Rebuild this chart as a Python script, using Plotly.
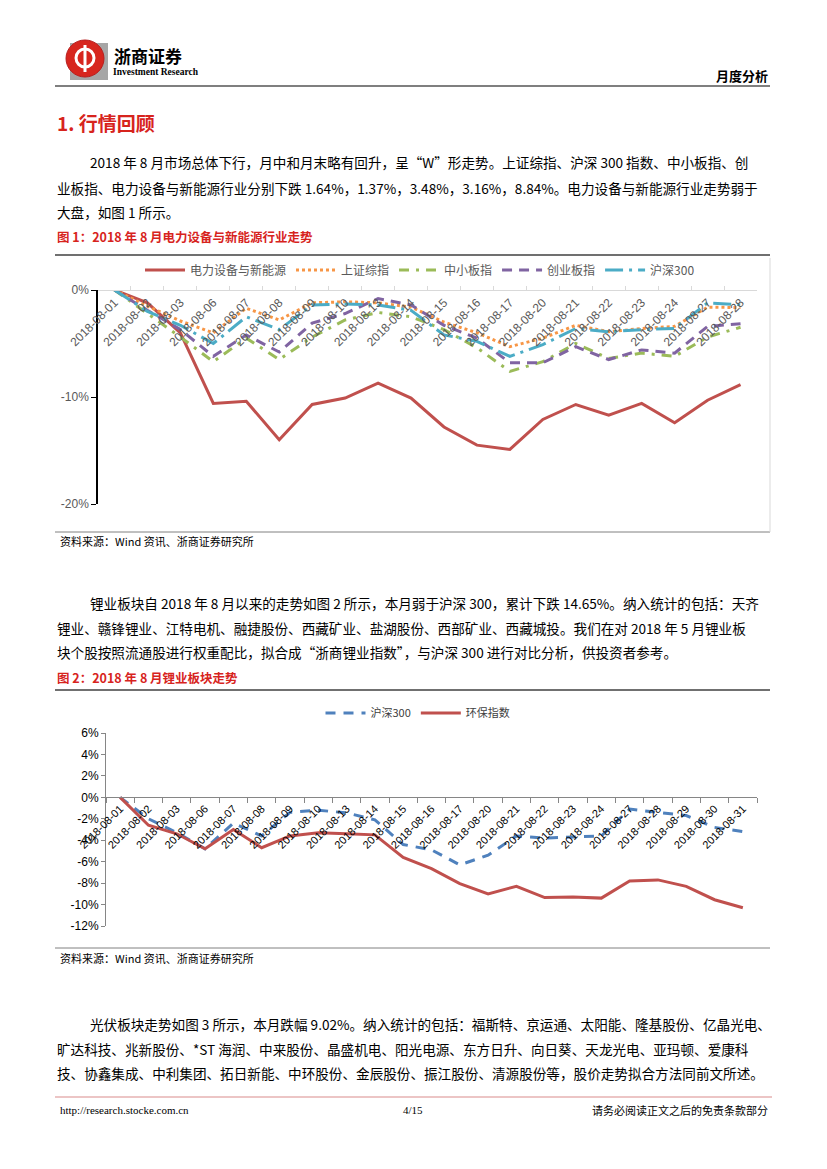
import plotly.graph_objects as go

W, H = 827, 1169
OFF = 8  # page body margin in the browser
def X(px): return (px - OFF) / W
def Y(py): return 1 - (py - OFF) / H

# ---------------- data ----------------
dates1 = ["2018-08-01", "2018-08-02", "2018-08-03", "2018-08-06", "2018-08-07", "2018-08-08",
          "2018-08-09", "2018-08-10", "2018-08-13", "2018-08-14", "2018-08-15", "2018-08-16",
          "2018-08-17", "2018-08-20", "2018-08-21", "2018-08-22", "2018-08-23", "2018-08-24",
          "2018-08-27", "2018-08-28"]
power_newenergy = [0, -1.2, -4.0, -10.6, -10.4, -14.0, -10.7, -10.1, -8.7, -10.1, -12.8, -14.5,
                   -14.9, -12.1, -10.7, -11.7, -10.6, -12.4, -10.3, -8.84]
sh_composite = [0, -1.5, -2.9, -4.0, -1.7, -2.8, -1.2, -1.1, -1.2, -1.6, -3.0, -4.0,
                -5.3, -4.5, -3.3, -3.9, -3.6, -3.4, -1.6, -1.64]
sme_index = [0, -2.2, -4.4, -6.7, -4.5, -6.5, -4.4, -2.8, -2.1, -2.5, -3.7, -5.4,
             -7.6, -6.7, -5.0, -6.4, -5.9, -6.2, -4.4, -3.48]
chinext_index = [0, -1.9, -3.7, -6.2, -4.2, -5.8, -3.1, -2.2, -0.8, -1.4, -3.3, -4.5,
                 -6.8, -6.8, -5.3, -6.5, -5.6, -5.9, -3.4, -3.16]
hs300_fig1 = [0, -2.0, -3.3, -5.0, -2.5, -3.7, -1.4, -1.3, -1.4, -1.9, -4.2, -4.8,
              -6.2, -5.1, -3.6, -3.9, -3.7, -3.6, -1.2, -1.37]

dates2 = dates1 + ["2018-08-29", "2018-08-30", "2018-08-31"]
hs300_fig2 = [0, -2.0, -3.3, -4.8, -2.4, -3.6, -1.4, -1.2, -1.45, -2.1, -4.4, -4.9,
              -6.3, -5.4, -3.6, -3.8, -3.7, -3.6, -1.1, -1.4, -1.7, -2.8, -3.2]
lithium_index = [0, -2.6, -3.4, -4.8, -3.0, -4.7, -3.6, -3.3, -3.4, -3.5, -5.6, -6.65,
                 -8.05, -9.0, -8.3, -9.35, -9.3, -9.4, -7.8, -7.7, -8.3, -9.55, -10.3]

y1_tickvals = [0, -10, -20]
y1_ticktext = ["0%", "-10%", "-20%"]
y2_tickvals = [6, 4, 2, 0, -2, -4, -6, -8, -10, -12]
y2_ticktext = ["6%", "4%", "2%", "0%", "-2%", "-4%", "-6%", "-8%", "-10%", "-12%"]

# ---------------- figure ----------------
RED = "#C0504D"
TITLE_RED = "#D7241D"
CJK = "Noto Sans CJK SC"
fig = go.Figure()

fig1_series = [
    ("电力设备与新能源", power_newenergy, RED, "solid"),
    ("上证综指", sh_composite, "#F79646", "dot"),
    ("中小板指", sme_index, "#9BBB59", "10px,7px,3px,7px"),
    ("创业板指", chinext_index, "#8064A2", "10px,7px"),
    ("沪深300", hs300_fig1, "#4BACC6", "18px,6px,3px,6px"),
]
for name, vals, col, dash in fig1_series:
    fig.add_trace(go.Scatter(x=dates1, y=vals, name=name, mode="lines",
                             line=dict(color=col, width=3, dash=dash),
                             xaxis="x", yaxis="y", legend="legend", cliponaxis=False))

fig.add_trace(go.Scatter(x=dates2, y=hs300_fig2, name="沪深300", mode="lines",
                         line=dict(color="#4F81BD", width=3, dash="10px,8px"),
                         xaxis="x2", yaxis="y2", legend="legend2", cliponaxis=False))
fig.add_trace(go.Scatter(x=dates2, y=lithium_index, name="环保指数", mode="lines",
                         line=dict(color=RED, width=3),
                         xaxis="x2", yaxis="y2", legend="legend2", cliponaxis=False))

narrow = "Liberation Sans Narrow, Arial Narrow, Liberation Sans"
layout = dict(
    template="none",
    width=W, height=H, margin=dict(l=0, r=0, t=0, b=0, pad=0, autoexpand=False),
    paper_bgcolor="white", plot_bgcolor="rgba(0,0,0,0)",
    xaxis=dict(domain=[X(98), X(757)], type="category", range=[-0.5, 19.5], automargin=False,
               anchor="free", position=Y(290), showline=True, linecolor="#D9D9D9", linewidth=1,
               ticks="inside", ticklen=4, tickcolor="#D9D9D9", tickson="boundaries",
               tickangle=-45, tickfont=dict(family=narrow, size=12, color="#595959"),
               showgrid=False, zeroline=False, fixedrange=True),
    yaxis=dict(domain=[Y(504), Y(290)], range=[-20, 0], tickvals=y1_tickvals, ticktext=y1_ticktext,
               automargin=False,
               showline=True, linecolor="#000000", linewidth=1.5, ticks="outside", ticklen=5,
               tickcolor="#000000", tickfont=dict(family=narrow, size=12, color="#595959"),
               showgrid=False, zeroline=False, anchor="x"),
    xaxis2=dict(domain=[X(106), X(757)], type="category", range=[-0.5, 22.5], automargin=False,
                anchor="free", position=Y(797), showline=True, linecolor="#868686", linewidth=1,
                ticks="outside", ticklen=5, tickcolor="#868686", tickson="boundaries",
                tickangle=-45, tickfont=dict(family="Liberation Sans, Arial", size=11, color="#000000"),
                showgrid=False, zeroline=False),
    yaxis2=dict(domain=[Y(926), Y(733)], range=[-12, 6], tickvals=y2_tickvals, ticktext=y2_ticktext,
                automargin=False,
                showline=True, linecolor="#868686", linewidth=1, ticks="outside", ticklen=4,
                tickcolor="#868686", tickfont=dict(family="Liberation Sans, Arial", size=12, color="#000000"),
                showgrid=False, zeroline=False, anchor="x2"),
    legend=dict(orientation="h", x=X(420), xanchor="center", y=Y(270), yanchor="middle",
                font=dict(family=CJK, size=12, color="#595959"), bgcolor="rgba(0,0,0,0)",
                itemwidth=40, tracegroupgap=0),
    legend2=dict(orientation="h", x=X(418), xanchor="center", y=Y(713), yanchor="middle",
                 font=dict(family=CJK, size=11, color="#404040"), bgcolor="rgba(0,0,0,0)",
                 itemwidth=40),
    showlegend=True,
)
fig.update_layout(**layout)

shapes = []
def hline(py, x0=55, x1=770, color="#808080", width=1):
    shapes.append(dict(type="line", xref="paper", yref="paper", x0=X(x0), x1=X(x1),
                       y0=Y(py), y1=Y(py), line=dict(color=color, width=width)))

hline(86, color="#7F7F7F", width=2)
hline(255, color="#404040", width=1.5)
hline(532, color="#808080", width=1)
hline(690, color="#404040", width=1.5)
hline(948, color="#808080", width=1)
hline(1097, x0=55, x1=772, color="#D98C8C", width=1.2)
shapes.append(dict(type="line", xref="paper", yref="paper", x0=X(770), x1=X(770),
                   y0=Y(258), y1=Y(532), line=dict(color="#D9D9D9", width=1)))

# logo
shapes.append(dict(type="rect", xref="paper", yref="paper", x0=X(70), x1=X(108), y0=Y(80), y1=Y(43),
                   fillcolor="#A6A6A6", line=dict(width=0), layer="below"))
shapes.append(dict(type="circle", xref="paper", yref="paper", x0=X(66), x1=X(104), y0=Y(77), y1=Y(40),
                   fillcolor="#D7261E", line=dict(color="#B71C1C", width=1)))
shapes.append(dict(type="circle", xref="paper", yref="paper", x0=X(76), x1=X(94), y0=Y(67), y1=Y(49),
                   fillcolor="rgba(0,0,0,0)", line=dict(color="white", width=3)))
shapes.append(dict(type="line", xref="paper", yref="paper", x0=X(85), x1=X(85), y0=Y(45), y1=Y(72),
                   line=dict(color="white", width=3)))
fig.update_layout(shapes=shapes)

ann = []
def text(px, py, s, size=14, color="#000000", family=CJK, anchor="left", bold=False):
    if bold:
        s = "<b>" + s + "</b>"
    ann.append(dict(xref="paper", yref="paper", x=X(px), y=Y(py), text=s, showarrow=False,
                    xanchor=anchor, yanchor="middle", font=dict(family=family, size=size, color=color)))

text(112, 55, "浙商证券", size=17, bold=True)
text(111, 72, "Investment Research", size=9.5, family="Liberation Sans Narrow, Liberation Serif", bold=True)
text(770, 76, "月度分析", size=13, anchor="right", bold=True)

text(55, 122, "1. 行情回顾", size=19, color=TITLE_RED, bold=True)

text(88, 162, "2018 年 8 月市场总体下行，月中和月末略有回升，呈“W”形走势。上证综指、沪深 300 指数、中小板指、创", size=13.6)
text(55, 188, "业板指、电力设备与新能源行业分别下跌 1.64%，1.37%，3.48%，3.16%，8.84%。电力设备与新能源行业走势弱于", size=13.6)
text(55, 212, "大盘，如图 1 所示。", size=13.6)

text(55, 237, "图 1：2018 年 8 月电力设备与新能源行业走势", size=12.5, color=TITLE_RED, bold=True)
text(58, 541, "资料来源：Wind 资讯、浙商证券研究所", size=11)

text(88, 603, "锂业板块自 2018 年 8 月以来的走势如图 2 所示，本月弱于沪深 300，累计下跌 14.65%。纳入统计的包括：天齐", size=13.6)
text(55, 628, "锂业、赣锋锂业、江特电机、融捷股份、西藏矿业、盐湖股份、西部矿业、西藏城投。我们在对 2018 年 5 月锂业板", size=13.6)
text(55, 652, "块个股按照流通股进行权重配比，拟合成“浙商锂业指数”，与沪深 300 进行对比分析，供投资者参考。", size=13.6)

text(55, 677, "图 2：2018 年 8 月锂业板块走势", size=12.5, color=TITLE_RED, bold=True)
text(58, 958, "资料来源：Wind 资讯、浙商证券研究所", size=11)

text(88, 1024, "光伏板块走势如图 3 所示，本月跌幅 9.02%。纳入统计的包括：福斯特、京运通、太阳能、隆基股份、亿晶光电、", size=13.6)
text(55, 1049, "旷达科技、兆新股份、*ST 海润、中来股份、晶盛机电、阳光电源、东方日升、向日葵、天龙光电、亚玛顿、爱康科", size=13.6)
text(55, 1073, "技、协鑫集成、中利集团、拓日新能、中环股份、金辰股份、振江股份、清源股份等，股价走势拟合方法同前文所述。", size=13.6)

text(58, 1110, "http://research.stocke.com.cn", size=11, family="Liberation Serif")
text(413, 1110, "4/15", size=11, family="Liberation Serif", anchor="center")
text(770, 1110, "请务必阅读正文之后的免责条款部分", size=11, anchor="right")

fig.update_layout(annotations=ann)
fig.write_html("out.html")
